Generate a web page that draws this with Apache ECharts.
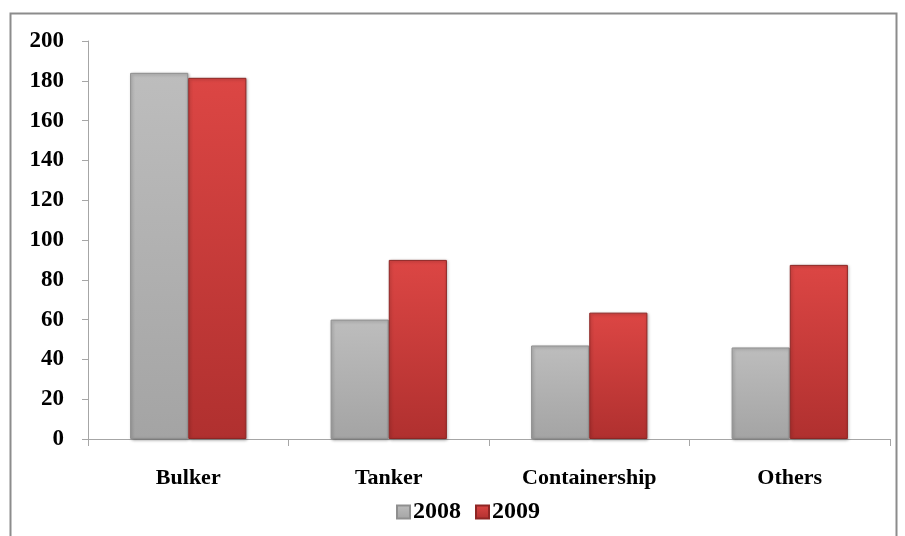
<!DOCTYPE html>
<html><head><meta charset="utf-8">
<script src="https://cdn.jsdelivr.net/npm/echarts@6/dist/echarts.min.js"></script>
<style>html,body{margin:0;padding:0;background:#fff}#c{width:905px;height:536px}</style>
</head><body><div id="c"></div>
<script>
var categories = ['Bulker', 'Tanker', 'Containership', 'Others'];
var series2008 = [184, 60, 47, 46];
var series2009 = [181.5, 90, 63.5, 87.5];
var seriesNames = ['2008', '2009'];

var chart = echarts.init(document.getElementById('c'));
var font = '"Liberation Serif", "Times New Roman", serif';
function grad(top, bottom) {
  return new echarts.graphic.LinearGradient(0, 0, 0, 1, [
    {offset: 0, color: top}, {offset: 1, color: bottom}
  ]);
}
chart.setOption({
  animation: false,
  graphic: [{
    type: 'rect', shape: {x: 10.5, y: 13.5, width: 886, height: 540},
    style: {fill: 'none', stroke: '#8c8c8c', lineWidth: 2}, silent: true
  }],
  grid: {left: 88, right: 15, top: 41, bottom: 97},
  legend: {
    data: seriesNames, top: 495, left: 391, itemWidth: 13, itemHeight: 13, itemGap: 14,
    icon: 'rect',
    textStyle: {fontFamily: font, fontWeight: 'bold', fontSize: 24, color: '#000', padding: [0, 0, 0, -2]}
  },
  xAxis: {
    type: 'category', data: categories,
    axisLine: {lineStyle: {color: '#a6a6a6'}},
    axisTick: {show: true, length: 7, lineStyle: {color: '#a6a6a6'}},
    axisLabel: {fontFamily: font, fontWeight: 'bold', fontSize: 22, color: '#000', margin: 28}
  },
  yAxis: {
    type: 'value', min: 0, max: 200, interval: 20,
    splitLine: {show: false},
    axisLine: {show: true, lineStyle: {color: '#a6a6a6'}},
    axisTick: {show: true, length: 6, lineStyle: {color: '#a6a6a6'}},
    axisLabel: {fontFamily: font, fontWeight: 'bold', fontSize: 23, color: '#000', margin: 24}
  },
  series: [{
    name: seriesNames[0], type: 'bar', data: series2008, barGap: '0%', barCategoryGap: '42%',
    itemStyle: {color: grad('#bdbdbd', '#a4a4a4'), borderColor: '#8f8f8f', borderWidth: 1,
      shadowColor: 'rgba(0,0,0,0.3)', shadowBlur: 3, shadowOffsetX: 1, shadowOffsetY: 1}
  }, {
    name: seriesNames[1], type: 'bar', data: series2009,
    itemStyle: {color: grad('#dc4644', '#b0302f'), borderColor: '#8e2624', borderWidth: 1,
      shadowColor: 'rgba(0,0,0,0.3)', shadowBlur: 3, shadowOffsetX: 1, shadowOffsetY: 1}
  }]
});
</script></body></html>
